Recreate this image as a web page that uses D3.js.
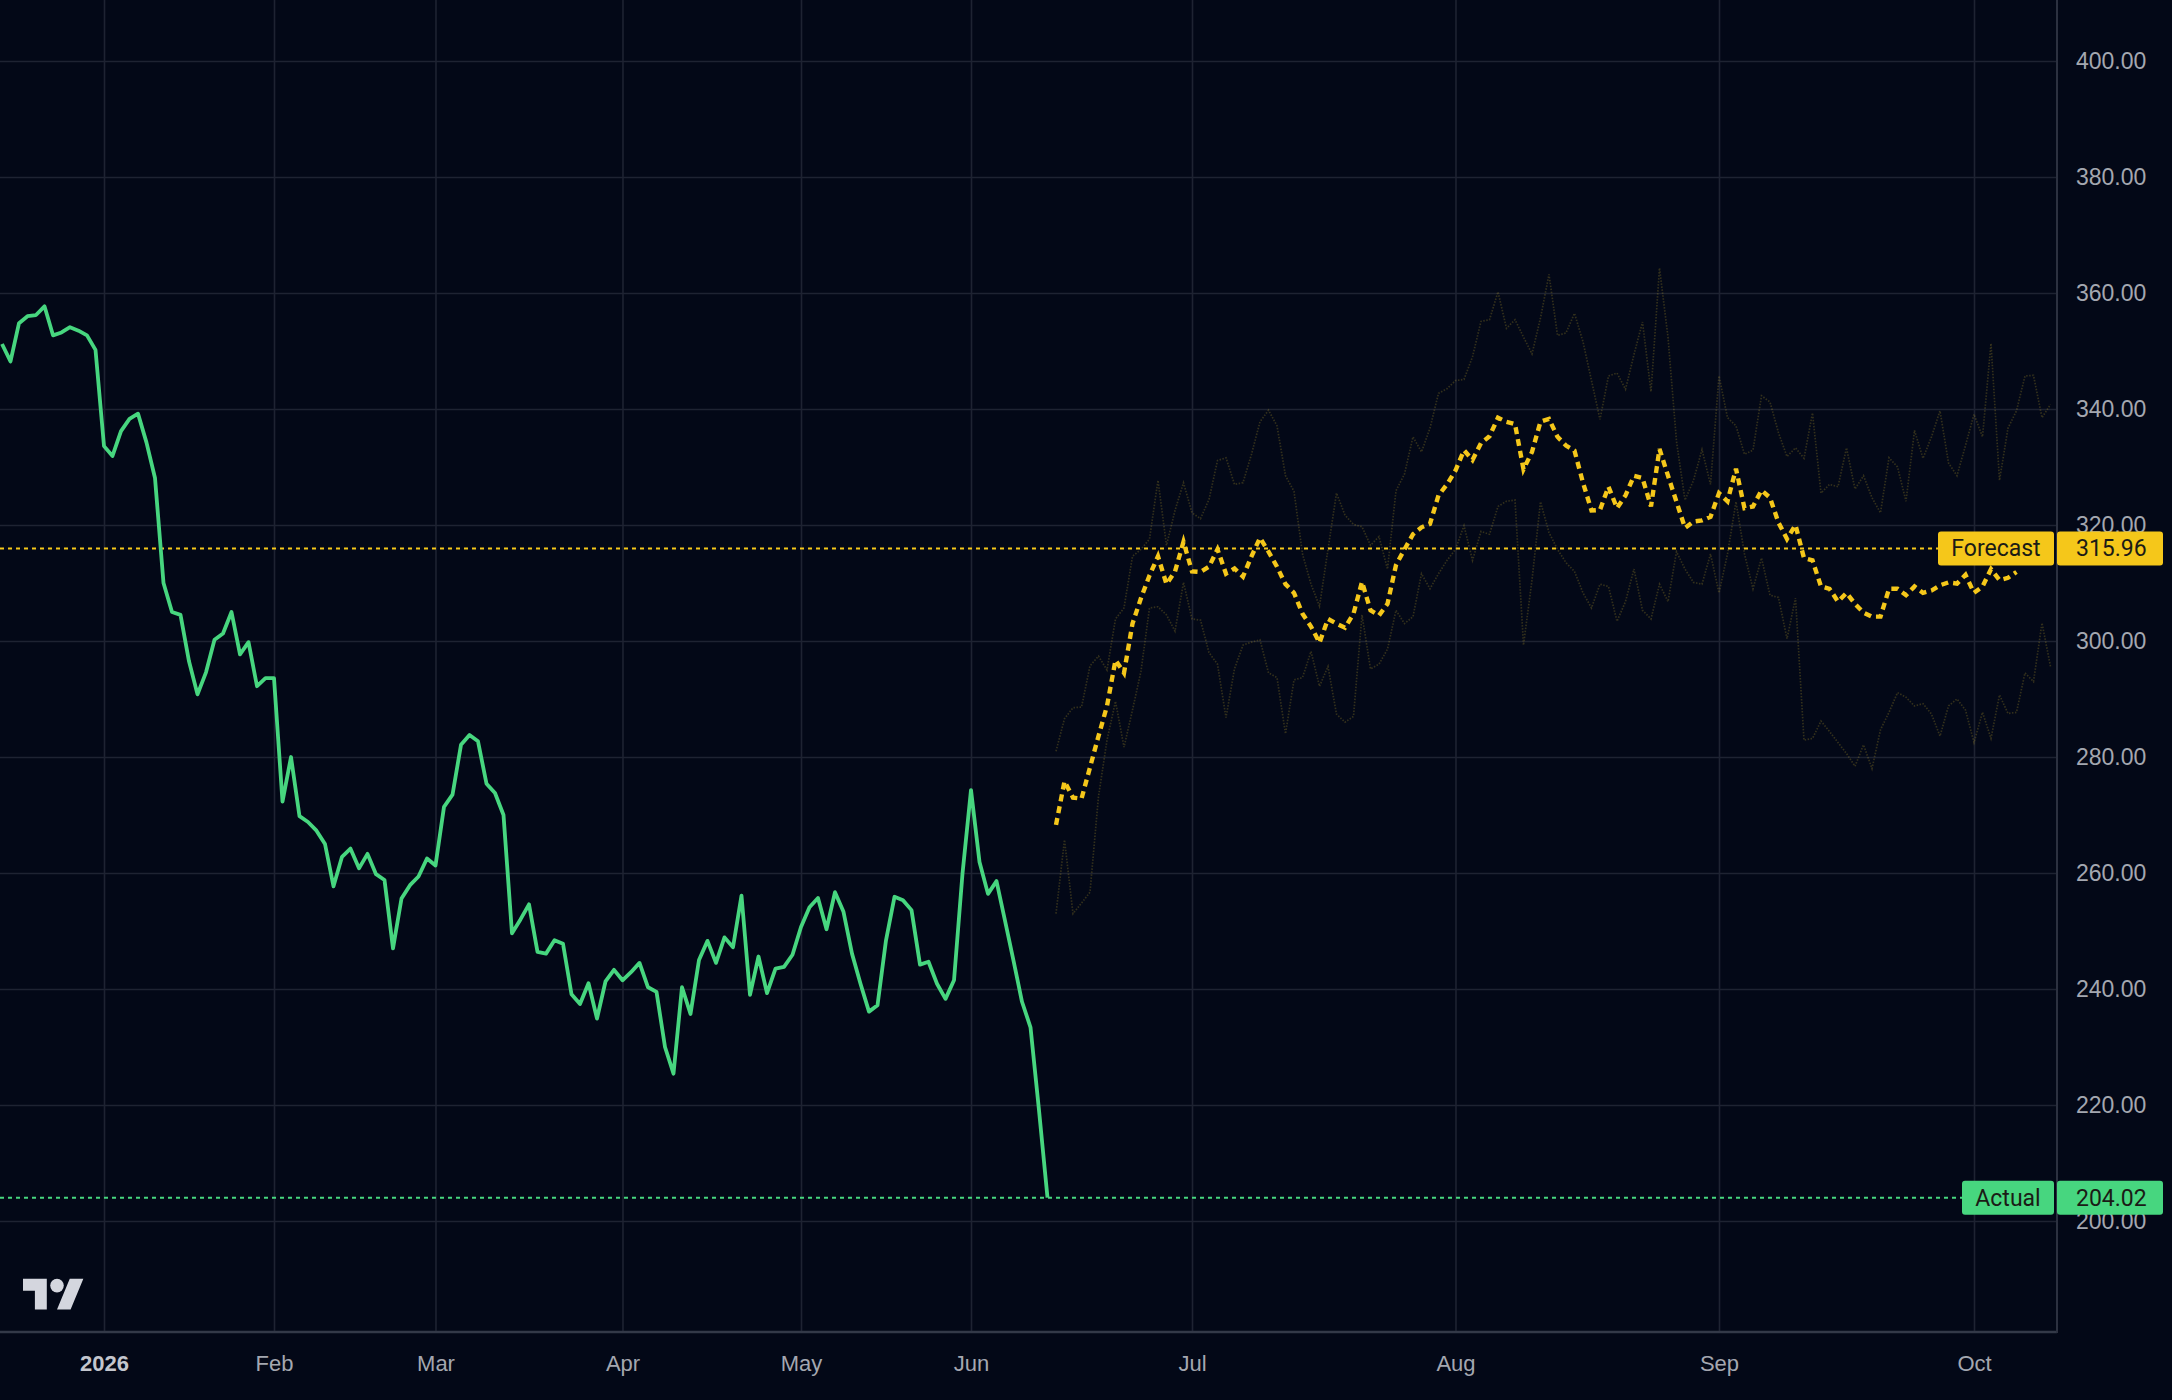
<!DOCTYPE html>
<html>
<head>
<meta charset="utf-8">
<script src="https://cdn.jsdelivr.net/npm/d3@7"></script>
<style>
  html, body { margin: 0; padding: 0; background: #030817; }
  svg { display: block; }
</style>
</head>
<body>
<div id="chart"></div>
<script>
// Actual closes, one per trading bar (bar 0 = mid Dec 2025)
const actual = [
  351.2, 348.2, 354.8, 356.0, 356.2, 357.7, 352.7, 353.2, 354.1, 353.5, 352.7, 350.2,
  333.6, 331.9, 336.2, 338.3, 339.2, 334.2, 328.1, 310.0, 305.0, 304.5, 296.5, 290.8,
  294.6, 300.2, 301.3, 305.0, 297.7, 299.8, 292.2, 293.6, 293.6, 272.3, 280.0, 269.8,
  268.8, 267.3, 265.0, 257.7, 262.8, 264.2, 260.8, 263.3, 259.8, 258.8, 247.0, 255.6,
  257.9, 259.4, 262.5, 261.3, 271.4, 273.5, 282.1, 283.8, 282.7, 275.4, 273.8, 270.0,
  249.6, 252.0, 254.6, 246.4, 246.1, 248.4, 247.8, 239.1, 237.4, 241.0, 234.9, 241.3,
  243.3, 241.5, 242.9, 244.5, 240.3, 239.5, 230.0, 225.4, 240.3, 235.7, 245.0, 248.3,
  244.5, 248.9, 247.2, 256.1, 239.0, 245.6, 239.3, 243.5, 243.8, 245.9, 250.7, 254.1,
  255.7, 250.3, 256.7, 253.3, 246.1, 240.9, 236.1, 237.2, 248.4, 255.9, 255.3, 253.6,
  244.2, 244.7, 240.9, 238.3, 241.5, 259.9, 274.3, 261.9, 256.4, 258.6, 251.8, 244.9,
  237.8, 233.4, 219.1, 204.02
];

// forecast series start at this bar and go on daily
const forecastStart = 124;

const forecast = [
  268.3, 275.8, 273.0, 272.8, 278.2, 283.6, 288.8, 296.7, 294.5, 303.0, 307.4, 311.3,
  314.6, 309.8, 312.0, 317.1, 312.0, 311.9, 312.8, 315.8, 311.6, 312.5, 311.1, 314.6,
  317.8, 315.4, 312.8, 309.8, 308.3, 304.7, 302.5, 299.7, 303.8, 303.0, 302.3, 304.7,
  310.2, 305.3, 304.4, 306.4, 313.1, 315.8, 318.4, 319.6, 320.2, 325.1, 327.0, 329.4,
  332.9, 331.2, 334.1, 335.3, 338.5, 337.8, 337.4, 329.6, 332.6, 337.8, 338.3, 335.2,
  333.7, 332.8, 327.3, 322.5, 322.6, 326.6, 322.9, 325.1, 328.5, 328.1, 323.2, 333.1,
  328.5, 324.0, 319.5, 320.6, 320.8, 321.4, 325.5, 324.1, 329.7, 322.9, 323.2, 326.0,
  324.7, 320.4, 317.6, 320.0, 314.3, 313.9, 309.4, 309.0, 306.8, 308.3, 306.4, 304.9,
  304.2, 304.2, 309.0, 309.0, 307.9, 309.4, 308.3, 308.7, 309.6, 310.1, 309.9, 311.4,
  308.3, 309.4, 312.4, 310.5, 310.9, 311.9
];

const bandA = [
  281.0, 286.6, 288.5, 288.6, 295.7, 297.4, 295.0, 303.8, 305.7, 314.6, 315.8, 317.6,
  327.7, 316.5, 322.5, 327.3, 322.1, 321.1, 324.4, 331.1, 331.6, 327.0, 327.3, 332.2,
  337.8, 339.8, 337.1, 328.5, 325.8, 315.0, 309.8, 306.0, 315.8, 325.5, 321.7, 320.1,
  319.7, 316.5, 318.0, 312.4, 325.9, 328.8, 335.2, 332.6, 336.7, 342.7, 343.5, 344.9,
  345.1, 349.0, 355.1, 355.4, 360.2, 353.9, 355.4, 352.4, 349.5, 355.7, 363.2, 352.7,
  353.1, 356.5, 351.6, 344.9, 338.2, 345.7, 346.2, 343.4, 349.4, 355.0, 343.0, 364.3,
  352.4, 334.4, 324.3, 327.7, 333.0, 327.0, 345.7, 338.5, 337.1, 332.2, 332.9, 342.3,
  341.2, 335.9, 331.8, 333.3, 331.5, 339.3, 325.5, 327.0, 326.6, 333.3, 326.2, 328.5,
  324.7, 322.1, 331.6, 330.0, 324.1, 336.3, 331.5, 335.2, 339.7, 330.7, 328.5, 333.7,
  339.1, 335.2, 351.3, 327.7, 336.7, 339.7, 345.7, 345.8, 338.5, 340.8
];

const bandB = [
  253.0, 265.7, 253.0, 254.8, 256.7, 273.2, 282.9, 289.6, 281.7, 288.1, 294.8, 305.7,
  305.9, 304.5, 301.7, 310.1, 303.8, 303.6, 298.0, 296.0, 286.8, 295.2, 299.3, 299.8,
  300.2, 294.5, 293.7, 284.0, 293.3, 293.7, 298.2, 292.2, 295.6, 287.4, 286.0, 287.0,
  304.5, 295.2, 296.0, 298.6, 305.3, 303.0, 304.2, 311.6, 309.0, 311.6, 313.9, 315.8,
  319.9, 313.9, 318.9, 318.4, 323.2, 324.1, 324.3, 299.3, 310.5, 324.0, 318.7, 315.8,
  313.5, 312.0, 308.3, 305.7, 309.8, 309.4, 303.4, 306.8, 312.4, 305.3, 303.8, 309.8,
  306.8, 315.4, 312.4, 310.1, 309.8, 315.0, 308.3, 315.0, 324.0, 315.0, 309.0, 314.3,
  307.9, 307.5, 300.4, 307.4, 282.9, 283.2, 286.2, 284.4, 282.5, 280.6, 278.4, 282.1,
  278.0, 284.7, 287.7, 291.1, 290.3, 288.8, 289.2, 287.4, 283.6, 288.8, 290.0, 288.1,
  282.5, 287.7, 283.2, 290.7, 287.5, 287.7, 294.5, 293.0, 303.1, 295.6
];

const lastActual = 204.02;
const lastForecast = 315.96;

// month ticks: bar index of the first bar of each month
const tickBars = [12, 32, 51, 73, 94, 114, 140, 171, 202, 232];
const tickLabels = ['2026', 'Feb', 'Mar', 'Apr', 'May', 'Jun', 'Jul', 'Aug', 'Sep', 'Oct'];
const priceTicks = [200, 220, 240, 260, 280, 300, 320, 340, 360, 380, 400];

// Set dimensions
const W = 2172, H = 1400;
const plotW = 2057, plotH = 1332;

const bg = '#030817';
const gridColor = '#1e2332';
const textColor = '#a4a7b0';
const green = '#47d67f';
const yellow = '#f5c71a';

const svg = d3.select('#chart')
    .append('svg')
    .attr('width', W)
    .attr('height', H)
    .style('font-family', 'Roboto, "Open Sans", sans-serif');

svg.append('rect')
    .attr('width', W).attr('height', H)
    .attr('fill', bg);

// Scales (bar index -> px, price -> px)
const x = d3.scaleLinear().domain([0, 240]).range([2, 2042]);
const y = d3.scaleLinear().domain([200, 400]).range([1221, 61]);

svg.append('clipPath').attr('id', 'plot-clip')
    .append('rect').attr('width', plotW).attr('height', plotH);

// Grid lines
svg.append('g')
    .attr('transform', `translate(0,${plotH})`)
    .call(d3.axisBottom(x).tickValues(tickBars).tickSize(-plotH).tickFormat(''))
    .call(g => g.select('.domain').remove())
    .call(g => g.selectAll('line').attr('stroke', gridColor).attr('stroke-width', 1.6));

svg.append('g')
    .call(d3.axisLeft(y).tickValues(priceTicks).tickSize(-plotW).tickFormat(''))
    .call(g => g.select('.domain').remove())
    .call(g => g.selectAll('line').attr('stroke', gridColor).attr('stroke-width', 1.6));

const plot = svg.append('g').attr('clip-path', 'url(#plot-clip)');

// Horizontal price lines
plot.append('line')
    .attr('x1', 0).attr('x2', 1938)
    .attr('y1', y(lastForecast)).attr('y2', y(lastForecast))
    .attr('stroke', yellow).attr('stroke-width', 2)
    .attr('stroke-dasharray', '4 4');

plot.append('line')
    .attr('x1', 0).attr('x2', 1962)
    .attr('y1', y(lastActual)).attr('y2', y(lastActual))
    .attr('stroke', green).attr('stroke-width', 2)
    .attr('stroke-dasharray', '4 4');

const line = d3.line()
    .x(d => x(d[0]))
    .y(d => y(d[1]));

const withBars = (arr, start) => arr.map((v, i) => [start + i, v]);

// Faint forecast bands
[bandA, bandB].forEach(band => {
    plot.append('path')
        .datum(withBars(band, forecastStart))
        .attr('d', line)
        .attr('fill', 'none')
        .attr('stroke', 'rgba(205,175,45,0.24)')
        .attr('stroke-width', 1.7)
        .attr('stroke-dasharray', '1.5 1.5');
});

// Actual line
plot.append('path')
    .datum(withBars(actual, 0))
    .attr('d', line)
    .attr('fill', 'none')
    .attr('stroke', green)
    .attr('stroke-width', 3.8)
    .attr('stroke-linejoin', 'round');

// Forecast line
plot.append('path')
    .datum(withBars(forecast, forecastStart))
    .attr('d', line)
    .attr('fill', 'none')
    .attr('stroke', yellow)
    .attr('stroke-width', 4.4)
    .attr('stroke-dasharray', '7 5');

// Axis borders
svg.append('line')
    .attr('x1', 0).attr('x2', plotW)
    .attr('y1', plotH).attr('y2', plotH)
    .attr('stroke', '#333948').attr('stroke-width', 2.5);
svg.append('line')
    .attr('x1', plotW).attr('x2', plotW)
    .attr('y1', 0).attr('y2', plotH + 1)
    .attr('stroke', '#2c3140').attr('stroke-width', 2);

// X axis labels
svg.append('g')
    .attr('transform', `translate(0,${plotH})`)
    .call(d3.axisBottom(x).tickValues(tickBars).tickSize(0).tickPadding(0)
        .tickFormat((d, i) => tickLabels[i]))
    .call(g => g.select('.domain').remove())
    .call(g => g.selectAll('text')
        .attr('y', 31)
        .attr('dy', '0.35em')
        .attr('fill', (d, i) => i === 0 ? '#c3c6ce' : textColor)
        .attr('font-weight', (d, i) => i === 0 ? 'bold' : 'normal')
        .attr('font-size', 22));

// Y axis labels
svg.append('g')
    .attr('transform', `translate(${plotW},0)`)
    .call(d3.axisRight(y).tickValues(priceTicks).tickSize(0).tickPadding(19)
        .tickFormat(d3.format('.2f')))
    .call(g => g.select('.domain').remove())
    .call(g => g.selectAll('text')
        .attr('fill', textColor)
        .attr('font-size', 23));

// Last value labels
const addLabel = (value, name, left, color) => {
    const cy = y(value);
    const g = svg.append('g');
    g.append('rect')
        .attr('x', left).attr('y', cy - 17)
        .attr('width', plotW - 3 - left).attr('height', 34)
        .attr('rx', 3).attr('fill', color);
    g.append('rect')
        .attr('x', plotW).attr('y', cy - 17)
        .attr('width', 106).attr('height', 34)
        .attr('rx', 3).attr('fill', color);
    g.append('text')
        .attr('x', (left + plotW - 3) / 2).attr('y', cy)
        .attr('dy', '0.35em')
        .attr('text-anchor', 'middle')
        .attr('font-size', 23)
        .attr('fill', '#1b1b16')
        .text(name);
    g.append('text')
        .attr('x', plotW + 19).attr('y', cy)
        .attr('dy', '0.35em')
        .attr('font-size', 23)
        .attr('fill', '#1b1b16')
        .text(value.toFixed(2));
};
addLabel(lastForecast, 'Forecast', 1938, yellow);
addLabel(lastActual, 'Actual', 1962, green);

// Logo
svg.append('g')
    .attr('transform', 'translate(23,1272) scale(1.7)')
    .call(g => g.append('path')
        .attr('d', 'M14 22H7V11H0V4h14v18zM28 22h-8l7.5-18h8L28 22z')
        .attr('fill', '#d4d6de'))
    .call(g => g.append('circle')
        .attr('cx', 20).attr('cy', 8).attr('r', 4)
        .attr('fill', '#d4d6de'));
</script>
</body>
</html>
